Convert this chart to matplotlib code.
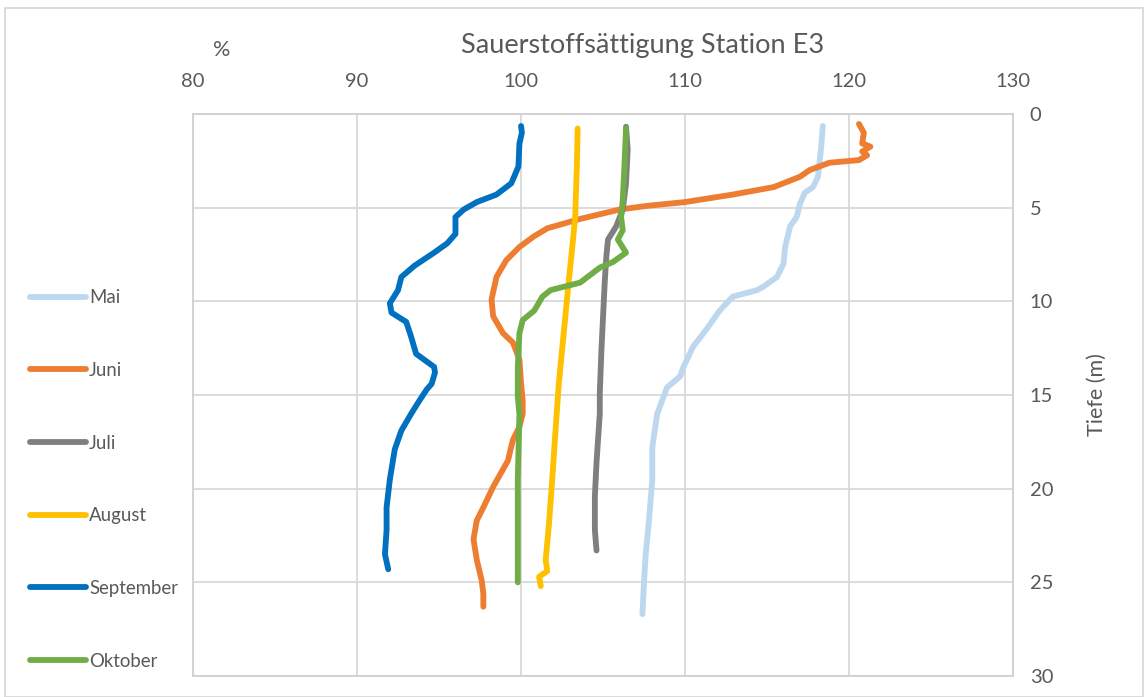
import matplotlib
matplotlib.use("Agg")
import matplotlib.pyplot as plt
from matplotlib.patches import Rectangle

plt.rcParams['font.family'] = ['Lato', 'DejaVu Sans']

# Sauerstoffsättigung (%) gegen Tiefe (m), Station E3
mai_x = [118.4, 118.3, 118.1, 117.8, 117.3, 117.0, 116.8, 116.4, 116.1, 116.0, 115.6, 114.8,
         114.4, 112.9, 112.1, 111.3, 110.5, 109.9, 109.7, 108.9, 108.6, 108.3, 108.0, 108.0,
         107.8, 107.6, 107.5, 107.4]
mai_d = [0.64, 1.74, 3.35, 3.9, 4.2, 4.8, 5.5, 6.0, 7.1, 8.0, 8.7, 9.2,
         9.4, 9.75, 10.5, 11.5, 12.4, 13.5, 14.0, 14.6, 15.3, 16.0, 17.8, 19.5,
         21.7, 23.5, 24.9, 26.7]

juni_x = [120.6, 120.9, 120.8, 121.3, 120.8, 121.1, 120.6, 118.8, 117.6, 117.0, 115.4, 112.9,
          110.0, 107.7, 106.0, 103.6, 101.6, 100.75, 99.9, 99.1, 98.5, 98.2, 98.3, 98.9,
          99.5, 99.9, 100.0, 100.1, 100.1, 99.9, 99.5, 99.2, 98.3, 97.7, 97.3, 97.1,
          97.3, 97.6, 97.7, 97.7]
juni_d = [0.53, 1.0, 1.57, 1.74, 2.0, 2.2, 2.46, 2.6, 2.99, 3.35, 3.9, 4.3,
          4.7, 4.9, 5.1, 5.6, 6.1, 6.55, 7.1, 7.8, 8.7, 9.9, 10.8, 11.7,
          12.2, 13.1, 14.4, 15.3, 16.0, 16.7, 17.4, 18.5, 19.9, 21.0, 21.7, 22.7,
          23.8, 24.9, 25.6, 26.3]

juli_x = [106.4, 106.5, 106.4, 106.2, 105.8, 105.3, 105.2, 105.1, 105.0, 104.9, 104.8,
          104.8, 104.6, 104.5, 104.5, 104.6]
juli_d = [0.68, 1.9, 3.7, 5.1, 6.0, 6.7, 7.6, 9.0, 10.8, 12.6, 14.9,
          16.0, 18.6, 20.4, 22.2, 23.3]

aug_x = [103.45, 103.4, 103.3, 103.1, 102.9, 102.7, 102.5, 102.3, 102.1, 101.9, 101.7,
         101.5, 101.6, 101.1, 101.2]
aug_d = [0.77, 2.8, 5.5, 7.3, 9.0, 10.8, 12.6, 14.4, 16.9, 19.5, 21.9,
         23.8, 24.4, 24.7, 25.2]

sep_x = [100.0, 100.05, 99.9, 99.84, 99.6, 99.4, 98.5, 97.3, 96.5, 96.0, 96.0, 95.5,
         94.7, 93.5, 92.7, 92.5, 92.0, 92.1, 93.0, 93.3, 93.6, 94.7, 94.75, 94.55,
         94.25, 93.8, 93.3, 92.7, 92.3, 92.0, 91.8, 91.8, 91.7, 91.9]
sep_d = [0.64, 1.0, 1.57, 2.8, 3.3, 3.7, 4.3, 4.7, 5.1, 5.5, 6.4, 6.9,
         7.4, 8.1, 8.7, 9.4, 10.1, 10.6, 11.1, 11.9, 12.8, 13.5, 13.8, 14.4,
         14.7, 15.3, 16.0, 16.9, 17.9, 19.5, 21.0, 22.2, 23.5, 24.3]

okt_x = [106.4, 106.3, 106.2, 106.1, 106.2, 105.9, 106.4, 105.6, 104.8, 103.6, 101.8,
         101.3, 100.8, 100.1, 99.9, 99.8, 99.8, 99.9, 99.8, 99.8, 99.8]
okt_d = [0.77, 2.8, 4.6, 5.5, 6.2, 6.7, 7.4, 7.9, 8.2, 9.0, 9.4,
         9.75, 10.5, 11.0, 11.7, 13.5, 15.1, 16.0, 19.5, 23.1, 25.0]

labels = ["Mai", "Juni", "Juli", "August", "September", "Oktober"]
colors = ["#BDD7EE", "#ED7D31", "#7F7F7F", "#FFC000", "#0070C0", "#70AD47"]
series = [(mai_x, mai_d), (juni_x, juni_d), (juli_x, juli_d),
          (aug_x, aug_d), (sep_x, sep_d), (okt_x, okt_d)]

x_ticks = [80, 90, 100, 110, 120, 130]
y_ticks = [0, 5, 10, 15, 20, 25, 30]

fig = plt.figure(figsize=(11.45, 6.97), dpi=100)
ax = fig.add_axes([0.1686, 0.0301, 0.7162, 0.8063])

handles = []
for (xs, ds), lab, c in zip(series, labels, colors):
    h, = ax.plot(xs, ds, color=c, lw=4.2, label=lab,
                 solid_capstyle="round", solid_joinstyle="round")
    handles.append(h)

ax.set_xlim(80, 130)
ax.set_ylim(30, 0)
ax.set_xticks(x_ticks)
ax.set_yticks(y_ticks)
ax.xaxis.tick_top()
ax.yaxis.tick_right()
ax.yaxis.set_label_position("right")
ax.tick_params(length=0, labelsize=14.5, colors="#595959")
ax.tick_params(axis="x", pad=17)
ax.tick_params(axis="y", pad=12)
ax.grid(True, color="#D9D9D9", lw=1.3)
ax.set_axisbelow(True)
for s in ax.spines.values():
    s.set_color("#D0D0D0")
    s.set_linewidth(1.3)

ax.set_ylabel("Tiefe (m)", fontsize=15.5, color="#595959", labelpad=24)

fig.text(0.5615, 0.935, "Sauerstoffsättigung Station E3", ha="center", va="center",
         fontsize=19.5, color="#595959")
fig.text(0.194, 0.928, "%", ha="center", va="center", fontsize=15.5, color="#595959")

fig.legend(handles=handles, loc="upper left", bbox_to_anchor=(0.012, 0.609),
           frameon=False, fontsize=13.4, labelspacing=2.99, handlelength=3.0,
           handletextpad=0.15, labelcolor="#595959")

# Rahmen um das ganze Diagramm
fig.patches.append(Rectangle((0.004, 0.0), 0.994, 0.989, transform=fig.transFigure,
                             fill=False, edgecolor="#D9D9D9", lw=1.3))

fig.savefig("out.png", dpi=100)
